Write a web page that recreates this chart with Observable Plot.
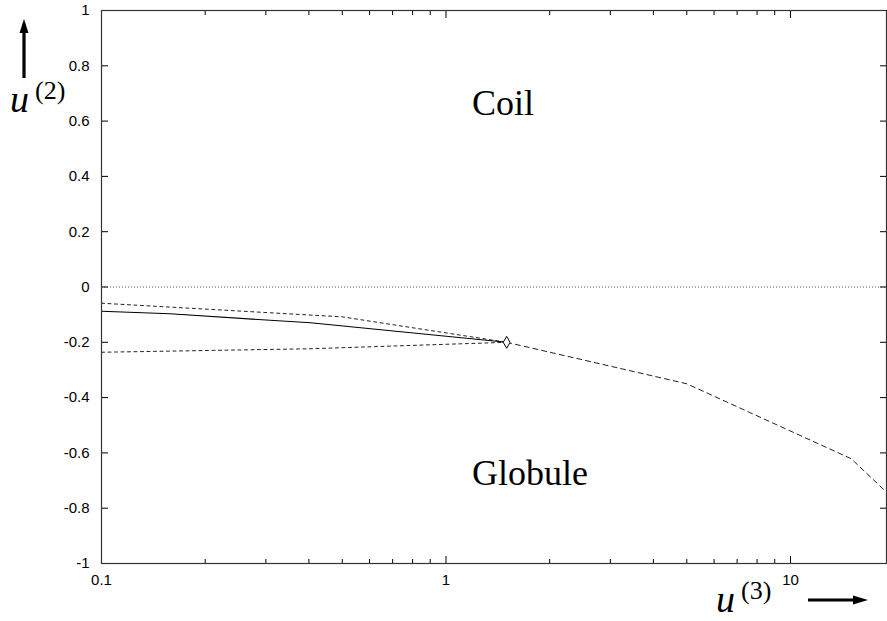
<!DOCTYPE html>
<html>
<head>
<meta charset="utf-8">
<script src="https://cdn.jsdelivr.net/npm/d3@7"></script>
<script src="https://cdn.jsdelivr.net/npm/@observablehq/plot@0.6"></script>
<style>
  html, body { margin: 0; padding: 0; background: #fff; }
  #chart { position: relative; width: 887px; height: 621px; }
</style>
</head>
<body>
<div id="chart"></div>
<script>
// ---- data ----
const solidX = [0.1, 0.158, 0.404, 1.5];
const solidY = [-0.0875, -0.097, -0.1295, -0.2];

const upperX = [0.1, 0.5, 1.5];
const upperY = [-0.0586, -0.108, -0.2];

const lowerX = [0.1, 0.4, 1.5];
const lowerY = [-0.236, -0.2235, -0.2];

const dashedX = [1.5, 5, 15, 20];
const dashedY = [-0.2, -0.35, -0.621, -0.768];

const pointX = [1.5];
const pointY = [-0.2];

const zeroLineY = [0];

const xMajorTicks = [0.1, 1, 10];
const xMinorTicks = [0.2, 0.3, 0.4, 0.5, 0.6, 0.7, 0.8, 0.9, 2, 3, 4, 5, 6, 7, 8, 9];
const yTicks = [-1, -0.8, -0.6, -0.4, -0.2, 0, 0.2, 0.4, 0.6, 0.8, 1];

const regionLabels = ["Coil", "Globule"];
const regionLabelX = [1.19, 1.19];
const regionLabelY = [0.662, -0.676];

// ---- build tables ----
const zip = (xs, ys) => xs.map((x, i) => ({x, y: ys[i]}));
const solid = zip(solidX, solidY);
const upper = zip(upperX, upperY);
const lower = zip(lowerX, lowerY);
const dashed = zip(dashedX, dashedY);
const points = zip(pointX, pointY);
const labels = regionLabels.map((t, i) => ({t, x: regionLabelX[i], y: regionLabelY[i]}));

const fmt = d => String(d);
const blank = () => "";
const SANS = "Liberation Sans";
const SERIF = "Liberation Serif";

const svg = Plot.plot({
  width: 887,
  height: 621,
  marginTop: 10,
  marginRight: 1,
  marginBottom: 58,
  marginLeft: 101,
  style: {background: "#fff", color: "#000"},
  x: {type: "log", domain: [0.1, 19], label: null},
  y: {domain: [-1, 1], label: null},
  marks: [
    Plot.ruleY(zeroLineY, {stroke: "#222", strokeWidth: 0.8, strokeDasharray: "1,2"}),
    Plot.line(upper, {x: "x", y: "y", stroke: "#222", strokeWidth: 1, strokeDasharray: "3,3.5", clip: true}),
    Plot.line(lower, {x: "x", y: "y", stroke: "#222", strokeWidth: 1, strokeDasharray: "3,3.5", clip: true}),
    Plot.line(solid, {x: "x", y: "y", stroke: "#000", strokeWidth: 1.1, clip: true}),
    Plot.line(dashed, {x: "x", y: "y", stroke: "#222", strokeWidth: 1, strokeDasharray: "5,4", clip: true}),
    Plot.dot(points, {x: "x", y: "y", symbol: "diamond", r: 3.6, fill: "#fff", stroke: "#000", strokeWidth: 1}),
    Plot.text(labels, {x: "x", y: "y", text: "t", textAnchor: "start", fontSize: 36, fontFamily: SERIF, fill: "#000"}),
    // axes with inward ticks
    Plot.axisX(xMajorTicks, {anchor: "bottom", tickSize: -7, tickPadding: 18, tickFormat: fmt, stroke: "#000", fontSize: 15, fontFamily: SANS}),
    Plot.axisX(xMinorTicks, {anchor: "bottom", tickSize: -4, tickFormat: blank, stroke: "#000"}),
    Plot.axisX(xMajorTicks, {anchor: "top", tickSize: -7, tickFormat: blank, stroke: "#000"}),
    Plot.axisX(xMinorTicks, {anchor: "top", tickSize: -4, tickFormat: blank, stroke: "#000"}),
    Plot.axisY(yTicks, {anchor: "left", tickSize: -7, tickPadding: 19, tickFormat: fmt, stroke: "#000", fontSize: 15, fontFamily: SANS}),
    Plot.axisY(yTicks, {anchor: "right", tickSize: -7, tickFormat: blank, stroke: "#000"}),
    Plot.frame({stroke: "#333", strokeWidth: 1.2})
  ]
});

svg.setAttribute("font-family", SANS);
svg.setAttribute("font-size", "15");
document.getElementById("chart").appendChild(svg);

const s = d3.select(svg);
// fonts set both as attributes and inline styles on every text the library drew
s.selectAll("text").each(function () {
  const serifText = regionLabels.includes(this.textContent);
  const fam = serifText ? SERIF : SANS;
  const size = serifText ? 36 : 15;
  this.setAttribute("font-family", fam);
  this.setAttribute("font-size", size);
  this.style.fontFamily = `"${fam}"`;
  this.style.fontSize = size + "px";
});

// ---- axis labels with arrows (annotations in the margins) ----
function axisLabel(x, baseline, sup) {
  s.append("text").attr("x", x).attr("y", baseline)
    .attr("font-family", SERIF).attr("font-style", "italic").attr("font-size", 38)
    .style("font-family", `"${SERIF}"`).style("font-style", "italic").style("font-size", "38px")
    .attr("text-anchor", "start").attr("fill", "#000").text("u");
  s.append("text").attr("x", x + 25).attr("y", baseline - 13)
    .attr("font-family", SERIF).attr("font-size", 26)
    .style("font-family", `"${SERIF}"`).style("font-size", "26px")
    .attr("text-anchor", "start").attr("fill", "#000").text(sup);
}
axisLabel(10, 112, "(2)");
axisLabel(716, 612, "(3)");

// vertical arrow (y)
s.append("line").attr("x1", 24).attr("y1", 78).attr("x2", 24).attr("y2", 30)
  .attr("stroke", "#000").attr("stroke-width", 3.2);
s.append("path").attr("d", "M24,19 L19.5,33 L28.5,33 Z").attr("fill", "#000");

// horizontal arrow (x)
s.append("line").attr("x1", 808).attr("y1", 600).attr("x2", 856).attr("y2", 600)
  .attr("stroke", "#000").attr("stroke-width", 3.2);
s.append("path").attr("d", "M868,600 L853,595.5 L853,604.5 Z").attr("fill", "#000");
</script>
</body>
</html>
